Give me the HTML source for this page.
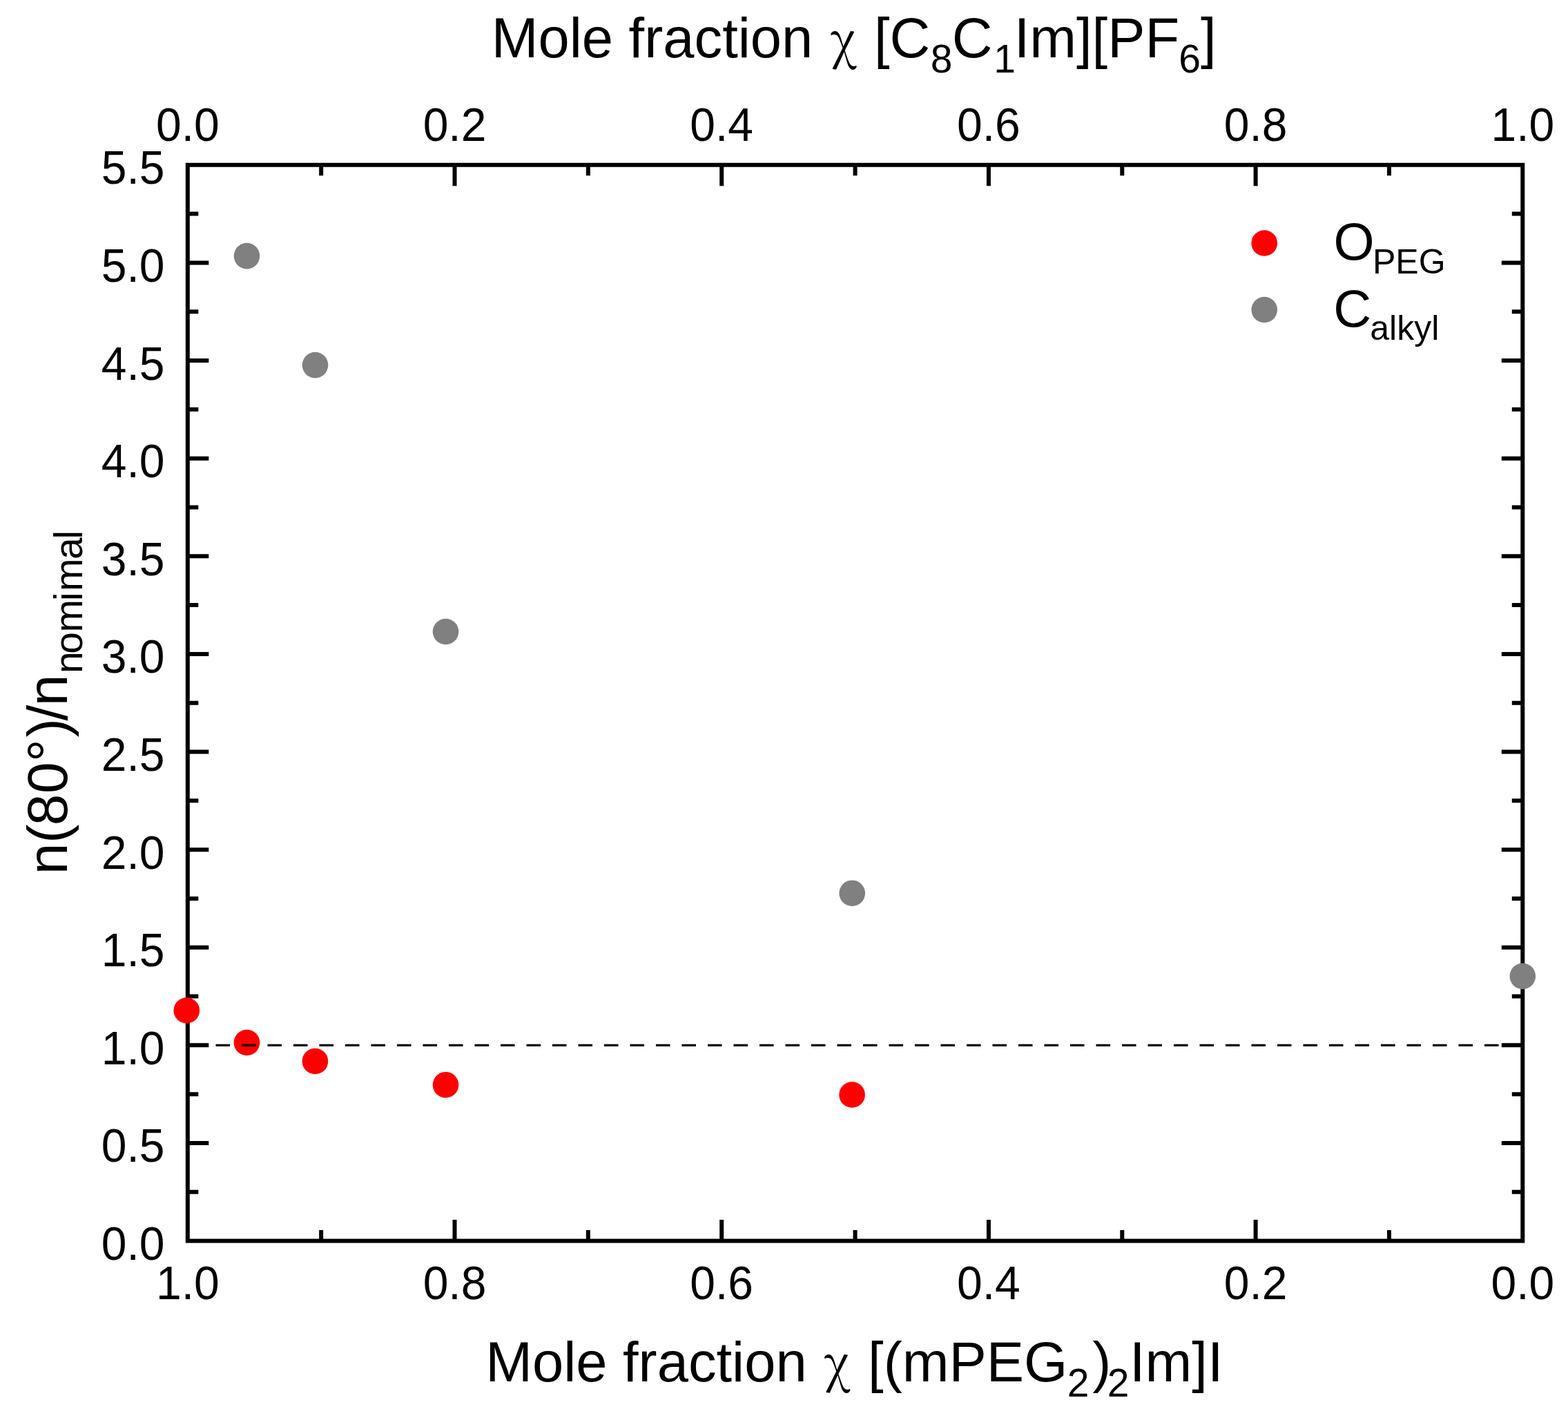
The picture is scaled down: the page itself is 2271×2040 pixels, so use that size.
<!DOCTYPE html><html><head><meta charset="utf-8"><title>plot</title><style>html,body{margin:0;padding:0;background:#fff;}svg{display:block;}</style></head><body>
<svg width="2271" height="2040" viewBox="0 0 2271 2040">
<rect width="2271" height="2040" fill="#fff"/>
<path d="M465.15 1796.60V1781.10M465.15 238.80V254.30M658.50 1796.60V1766.10M658.50 238.80V269.30M851.85 1796.60V1781.10M851.85 238.80V254.30M1045.20 1796.60V1766.10M1045.20 238.80V269.30M1238.55 1796.60V1781.10M1238.55 238.80V254.30M1431.90 1796.60V1766.10M1431.90 238.80V269.30M1625.25 1796.60V1781.10M1625.25 238.80V254.30M1818.60 1796.60V1766.10M1818.60 238.80V269.30M2011.95 1796.60V1781.10M2011.95 238.80V254.30M271.80 1725.79H287.30M2205.30 1725.79H2189.80M271.80 1654.98H302.30M2205.30 1654.98H2174.80M271.80 1584.17H287.30M2205.30 1584.17H2189.80M271.80 1513.36H302.30M2205.30 1513.36H2174.80M271.80 1442.55H287.30M2205.30 1442.55H2189.80M271.80 1371.75H302.30M2205.30 1371.75H2174.80M271.80 1300.94H287.30M2205.30 1300.94H2189.80M271.80 1230.13H302.30M2205.30 1230.13H2174.80M271.80 1159.32H287.30M2205.30 1159.32H2189.80M271.80 1088.51H302.30M2205.30 1088.51H2174.80M271.80 1017.70H287.30M2205.30 1017.70H2189.80M271.80 946.89H302.30M2205.30 946.89H2174.80M271.80 876.08H287.30M2205.30 876.08H2189.80M271.80 805.27H302.30M2205.30 805.27H2174.80M271.80 734.46H287.30M2205.30 734.46H2189.80M271.80 663.65H302.30M2205.30 663.65H2174.80M271.80 592.85H287.30M2205.30 592.85H2189.80M271.80 522.04H302.30M2205.30 522.04H2174.80M271.80 451.23H287.30M2205.30 451.23H2189.80M271.80 380.42H302.30M2205.30 380.42H2174.80M271.80 309.61H287.30M2205.30 309.61H2189.80" stroke="#000" stroke-width="6.0" fill="none"/>
<rect x="271.8" y="238.8" width="1933.50" height="1557.80" fill="none" stroke="#000" stroke-width="6.0" stroke-linejoin="miter" stroke-linecap="square"/>
<circle cx="357.5" cy="370.6" r="18.8" fill="#808080"/>
<circle cx="456.5" cy="528.6" r="18.8" fill="#808080"/>
<circle cx="645.5" cy="914.5" r="18.8" fill="#808080"/>
<circle cx="1234.2" cy="1293.2" r="18.8" fill="#808080"/>
<circle cx="2205.3" cy="1413.4" r="18.8" fill="#808080"/>
<circle cx="270.3" cy="1463.0" r="18.8" fill="#ff0000"/>
<circle cx="357.5" cy="1509.5" r="18.8" fill="#ff0000"/>
<circle cx="456.4" cy="1536.5" r="18.8" fill="#ff0000"/>
<circle cx="645.5" cy="1570.7" r="18.8" fill="#ff0000"/>
<circle cx="1234.1" cy="1585.0" r="18.8" fill="#ff0000"/>
<line x1="275" y1="1513.36" x2="2202.30" y2="1513.36" stroke="#000" stroke-width="3.4" stroke-dasharray="20.5 17"/>
<g font-family="'Liberation Sans', Arial, sans-serif" font-size="66" fill="#000" text-anchor="middle">
<text transform="translate(271.80,204) scale(1,1.03)">0.0</text>
<text transform="translate(271.80,1880.5) scale(1,1.03)">1.0</text>
<text transform="translate(658.50,204) scale(1,1.03)">0.2</text>
<text transform="translate(658.50,1880.5) scale(1,1.03)">0.8</text>
<text transform="translate(1045.20,204) scale(1,1.03)">0.4</text>
<text transform="translate(1045.20,1880.5) scale(1,1.03)">0.6</text>
<text transform="translate(1431.90,204) scale(1,1.03)">0.6</text>
<text transform="translate(1431.90,1880.5) scale(1,1.03)">0.4</text>
<text transform="translate(1818.60,204) scale(1,1.03)">0.8</text>
<text transform="translate(1818.60,1880.5) scale(1,1.03)">0.2</text>
<text transform="translate(2205.30,204) scale(1,1.03)">1.0</text>
<text transform="translate(2205.30,1880.5) scale(1,1.03)">0.0</text>
</g>
<g font-family="'Liberation Sans', Arial, sans-serif" font-size="66" fill="#000" text-anchor="end">
<text transform="translate(238.5,1824.10) scale(1,1.03)">0.0</text>
<text transform="translate(238.5,1682.48) scale(1,1.03)">0.5</text>
<text transform="translate(238.5,1540.86) scale(1,1.03)">1.0</text>
<text transform="translate(238.5,1399.25) scale(1,1.03)">1.5</text>
<text transform="translate(238.5,1257.63) scale(1,1.03)">2.0</text>
<text transform="translate(238.5,1116.01) scale(1,1.03)">2.5</text>
<text transform="translate(238.5,974.39) scale(1,1.03)">3.0</text>
<text transform="translate(238.5,832.77) scale(1,1.03)">3.5</text>
<text transform="translate(238.5,691.15) scale(1,1.03)">4.0</text>
<text transform="translate(238.5,549.54) scale(1,1.03)">4.5</text>
<text transform="translate(238.5,407.92) scale(1,1.03)">5.0</text>
<text transform="translate(238.5,266.30) scale(1,1.03)">5.5</text>
</g>
<g font-family="'Liberation Sans', Arial, sans-serif" fill="#000">
<text x="711.83" y="82.5" font-size="81.3">Mole fraction</text>
<text x="1266.00" y="82.5" font-size="81.3">[C</text>
<text x="1347.82" y="105" font-size="57">8</text>
<text x="1378.77" y="82.5" font-size="81.3">C</text>
<text x="1439.26" y="105" font-size="57">1</text>
<text x="1468.70" y="82.5" font-size="81.3">Im][PF</text>
<text x="1707.21" y="105" font-size="57">6</text>
<text x="1739.06" y="82.5" font-size="81.3">]</text>
</g>
<text transform="translate(1203.00,85.03) scale(0.897,1)" x="0" y="0" font-family="'Noto Serif CJK SC', 'DejaVu Serif', serif" font-size="75.3">&#967;</text>
<g font-family="'Liberation Sans', Arial, sans-serif" fill="#000">
<text x="703.23" y="2000" font-size="81.3">Mole fraction</text>
<text x="1257.10" y="2000" font-size="81.3">[(mPEG</text>
<text x="1545.83" y="2022" font-size="57">2</text>
<text x="1582.32" y="2000" font-size="81.3">)</text>
<text x="1603.63" y="2022" font-size="57">2</text>
<text x="1636.00" y="2000" font-size="81.3">Im]I</text>
</g>
<text transform="translate(1193.80,2001.33) scale(0.897,1)" x="0" y="0" font-family="'Noto Serif CJK SC', 'DejaVu Serif', serif" font-size="75.3">&#967;</text>
<g font-family="'Liberation Sans', Arial, sans-serif" fill="#000" transform="rotate(-90)">
<text x="-1266.25" y="97" font-size="82" dx="0 0 -1.8 0.6 0.3 2.6 -3.2 -1.5">n(80°)/n<tspan font-size="57" dy="21.6" dx="1.5 -3.4 -0.3 -2.0 1.3 -1.5 -2.2">nomimal</tspan></text>
</g>
<circle cx="1831.2" cy="352" r="18.8" fill="#ff0000"/>
<circle cx="1831.2" cy="448.5" r="18.8" fill="#808080"/>
<g font-family="'Liberation Sans', Arial, sans-serif" fill="#000">
<text x="1931.60" y="375.5" font-size="76">O</text>
<text x="1988.00" y="396.2" font-size="50">PEG</text>
<text x="1931.34" y="472.5" font-size="76">C</text>
<text x="1984.28" y="492" font-size="50">alkyl</text>
</g>
</svg></body></html>
